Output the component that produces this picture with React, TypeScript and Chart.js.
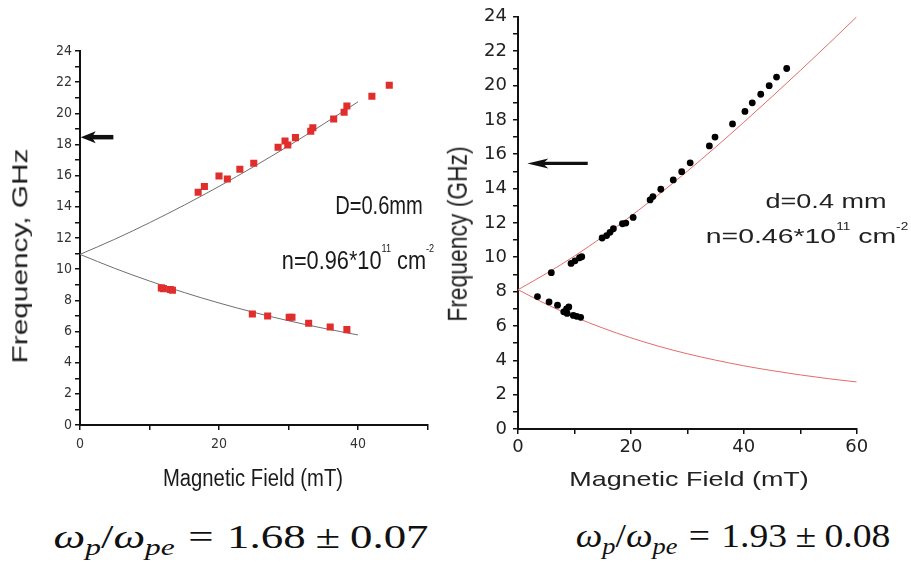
import React, { useEffect, useLayoutEffect, useRef, useState } from "react";
import { Chart, registerables } from "chart.js";
Chart.register(...registerables);

// ---------- Left panel (D = 0.6 mm) ----------
const leftUpperB = [17.0, 17.9, 20.0, 21.2, 23.0, 25.0, 28.5, 29.5, 29.9, 31.0, 33.2, 33.5, 36.5, 38.0, 38.4, 42.0, 44.5];
const leftUpperF = [14.94, 15.3, 15.98, 15.79, 16.41, 16.8, 17.82, 18.23, 17.97, 18.44, 18.85, 19.08, 19.64, 20.07, 20.47, 21.1, 21.8];
const leftLowerB = [11.7, 12.0, 13.0, 13.3, 24.8, 27.0, 30.1, 30.5, 32.9, 36.0, 38.4];
const leftLowerF = [8.8, 8.75, 8.7, 8.65, 7.12, 7.0, 6.91, 6.91, 6.53, 6.29, 6.12];
const leftFitB = [0, 5, 10, 15, 20, 25, 30, 35, 40];
const leftFitUpper = [10.95, 11.92, 12.98, 14.11, 15.31, 16.58, 17.91, 19.3, 20.74];
const leftFitLower = [10.95, 10.05, 9.24, 8.5, 7.83, 7.23, 6.69, 6.21, 5.78];
const leftXLabels = [0, 20, 40];
const leftYLabels = [0, 2, 4, 6, 8, 10, 12, 14, 16, 18, 20, 22, 24];
const leftArrow = { y: 18.47, tip: 0.1, tail: 4.8 };

// ---------- Right panel (d = 0.4 mm) ----------
const rightUpperB = [5.9, 9.4, 10.1, 10.9, 11.3, 14.9, 15.7, 16.3, 16.9, 18.5, 19.1, 20.4, 23.4, 23.9, 25.3, 27.5, 29.0, 30.5, 33.9, 34.9, 38.0, 40.2, 41.5, 43.0, 44.5, 45.8, 47.6];
const rightUpperF = [9.1, 9.64, 9.79, 9.97, 10.03, 11.12, 11.26, 11.45, 11.66, 11.95, 11.99, 12.32, 13.34, 13.53, 13.96, 14.5, 14.98, 15.5, 16.48, 17.0, 17.76, 18.49, 18.99, 19.49, 19.99, 20.49, 20.99];
const rightLowerB = [3.45, 5.5, 7.0, 8.1, 8.7, 8.6, 9.0, 9.8, 10.4, 11.1];
const rightLowerF = [7.71, 7.4, 7.21, 6.82, 6.73, 7.0, 7.11, 6.61, 6.56, 6.5];
const rightFitB = [0, 5, 10, 15, 20, 25, 30, 35, 40, 45, 50, 55, 60];
const rightFitUpper = [8.11, 9.05, 10.07, 11.19, 12.4, 13.67, 15.01, 16.41, 17.86, 19.35, 20.87, 22.42, 24.0];
const rightFitLower = [8.11, 7.27, 6.53, 5.88, 5.31, 4.81, 4.38, 4.01, 3.68, 3.4, 3.15, 2.93, 2.74];
const rightXLabels = [0, 20, 40, 60];
const rightYLabels = [0, 2, 4, 6, 8, 10, 12, 14, 16, 18, 20, 22, 24];
const rightArrow = { y: 15.46, tip: 1.65, tail: 12.35 };

const SANS = "'Liberation Sans', Arial, sans-serif";
const NARROW = "'Liberation Sans Narrow', 'DejaVu Sans Condensed', 'Liberation Sans', sans-serif";
const DEJAVU = "'DejaVu Sans', 'Liberation Sans', sans-serif";
const SERIF = "'Liberation Serif', 'Times New Roman', serif";
const RED = "rgb(224,46,44)";

const zip = (xs: number[], ys: number[]) => xs.map((x, i) => ({ x, y: ys[i] }));

const arrowPlugin = {
  id: "arrowMark",
  afterDatasetsDraw(chart: any, _args: any, opts: any) {
    if (!opts || opts.y == null) return;
    const xs = chart.scales.x;
    const ys = chart.scales.y;
    const ctx = chart.ctx;
    const py = ys.getPixelForValue(opts.y);
    const tip = xs.getPixelForValue(opts.tip);
    const tail = xs.getPixelForValue(opts.tail);
    const L = opts.headLen;
    const H = opts.headHalf;
    ctx.save();
    ctx.fillStyle = "#111";
    ctx.strokeStyle = "#111";
    ctx.lineWidth = opts.width;
    ctx.beginPath();
    ctx.moveTo(tail, py);
    ctx.lineTo(tip + L * 0.6, py);
    ctx.stroke();
    ctx.beginPath();
    ctx.moveTo(tip, py);
    ctx.lineTo(tip + L, py - H);
    ctx.lineTo(tip + L * 0.75, py);
    ctx.lineTo(tip + L, py + H);
    ctx.closePath();
    ctx.fill();
    ctx.restore();
  },
};

function axisCfg(o: any) {
  return {
    type: "linear",
    min: o.min,
    max: o.max,
    afterFit: (s: any) => {
      if (o.width != null) s.width = o.width;
      if (o.height != null) s.height = o.height;
    },
    ticks: {
      stepSize: o.step,
      autoSkip: false,
      maxRotation: 0,
      padding: o.pad,
      font: { family: o.family, size: o.size },
      color: o.color,
      callback: (v: any) => {
        const r = Math.round(Number(v));
        return o.labels.includes(r) ? String(r) : "";
      },
    },
    grid: { drawOnChartArea: false, drawTicks: true, tickLength: 5, color: "#111", lineWidth: 1.5 },
    border: { display: true, color: "#111", width: 2 },
  };
}

const leftConfig: any = {
  type: "scatter",
  data: {
    datasets: [
      { data: zip(leftUpperB, leftUpperF), pointStyle: "rect", pointRadius: 5, backgroundColor: RED, borderColor: RED, borderWidth: 0 },
      { data: zip(leftLowerB, leftLowerF), pointStyle: "rect", pointRadius: 5, backgroundColor: RED, borderColor: RED, borderWidth: 0 },
      { data: zip(leftFitB, leftFitUpper), showLine: true, pointRadius: 0, borderColor: "#6f6f6f", borderWidth: 1, cubicInterpolationMode: "monotone" },
      { data: zip(leftFitB, leftFitLower), showLine: true, pointRadius: 0, borderColor: "#6f6f6f", borderWidth: 1, cubicInterpolationMode: "monotone" },
    ],
  },
  options: {
    animation: false,
    responsive: false,
    events: [],
    layout: { padding: { left: 0, right: 12.5, top: 51, bottom: 0 } },
    plugins: {
      legend: { display: false },
      tooltip: { enabled: false },
      arrowMark: { ...leftArrow, width: 4.5, headLen: 15, headHalf: 6 },
    },
    scales: {
      x: axisCfg({ min: 0, max: 50, step: 10, height: 75, pad: 6, family: NARROW, size: 14, color: "#333", labels: leftXLabels }),
      y: axisCfg({ min: 0, max: 24, step: 1, width: 80, pad: 3, family: NARROW, size: 14, color: "#333", labels: leftYLabels }),
    },
  },
  plugins: [arrowPlugin],
};

const rightConfig: any = {
  type: "scatter",
  data: {
    datasets: [
      { data: zip(rightUpperB, rightUpperF), pointStyle: "circle", pointRadius: 3.4, backgroundColor: "#000", borderColor: "#000", borderWidth: 0 },
      { data: zip(rightLowerB, rightLowerF), pointStyle: "circle", pointRadius: 3.4, backgroundColor: "#000", borderColor: "#000", borderWidth: 0 },
      { data: zip(rightFitB, rightFitUpper), showLine: true, pointRadius: 0, borderColor: "#e46b6b", borderWidth: 1, cubicInterpolationMode: "monotone" },
      { data: zip(rightFitB, rightFitLower), showLine: true, pointRadius: 0, borderColor: "#e46b6b", borderWidth: 1, cubicInterpolationMode: "monotone" },
    ],
  },
  options: {
    animation: false,
    responsive: false,
    events: [],
    layout: { padding: { left: 0, right: 54.3, top: 14, bottom: 0 } },
    plugins: {
      legend: { display: false },
      tooltip: { enabled: false },
      arrowMark: { ...rightArrow, width: 3.3, headLen: 21, headHalf: 5 },
    },
    scales: {
      x: axisCfg({ min: 0, max: 60, step: 10, height: 71, pad: 2.5, family: DEJAVU, size: 18, color: "#222", labels: rightXLabels }),
      y: axisCfg({ min: 0, max: 24, step: 1, width: 78, pad: 6, family: DEJAVU, size: 18, color: "#222", labels: rightYLabels }),
    },
  },
  plugins: [arrowPlugin],
};

function ChartCanvas({ left, top, width, height, config }: any) {
  const ref = useRef<HTMLCanvasElement>(null);
  useEffect(() => {
    const chart = new Chart(ref.current as HTMLCanvasElement, config);
    return () => chart.destroy();
  }, [config]);
  return (
    <canvas
      ref={ref}
      width={width}
      height={height}
      style={{ position: "absolute", left, top, width, height }}
    />
  );
}

function Label({ x, y, w, size, family, rot = 0, sy = 1, color = "#1a1a1a", children }: any) {
  const ref = useRef<HTMLSpanElement>(null);
  const [sx, setSx] = useState(1);
  useLayoutEffect(() => {
    if (ref.current) {
      const nw = ref.current.offsetWidth;
      if (nw > 0) setSx(w / nw);
    }
  }, [w]);
  return (
    <span
      ref={ref}
      style={{
        position: "absolute",
        left: x,
        top: y,
        fontSize: size,
        fontFamily: family,
        lineHeight: 1,
        whiteSpace: "nowrap",
        color,
        transform: `translate(-50%, -50%) rotate(${rot}deg) scale(${sx}, ${sy})`,
      }}
    >
      {children}
    </span>
  );
}

const sup = (size: number, top: number) => ({ fontSize: `${size}em`, position: "relative" as const, top: `${top}em`, lineHeight: 1 });
const sub = { fontSize: "0.7em", position: "relative" as const, top: "0.32em", lineHeight: 1, fontStyle: "italic" };

function Formula({ value, err }: { value: string; err: string }) {
  return (
    <>
      <i>ω</i>
      <span style={sub}>p</span>
      <span>/</span>
      <i>ω</i>
      <span style={sub}>pe</span>
      <span style={{ margin: "0 0.3em" }}>=</span>
      <span>{value}</span>
      <span style={{ margin: "0 0.22em" }}>±</span>
      <span>{err}</span>
    </>
  );
}

export default function App() {
  return (
    <div style={{ position: "fixed", left: 0, top: 0, width: 911, height: 562, background: "#fff", overflow: "hidden" }}>
      <ChartCanvas left={0} top={0} width={440} height={500} config={leftConfig} />
      <ChartCanvas left={440} top={0} width={471} height={500} config={rightConfig} />

      {/* left panel texts */}
      <Label x={20} y={255.5} w={215} size={29} family={SANS} rot={-90} sy={0.77}>Frequency, GHz</Label>
      <Label x={253} y={478.5} w={180} size={23.3} family={SANS}>Magnetic Field (mT)</Label>
      <Label x={379} y={206} w={88} size={25.6} family={SANS}>D=0.6mm</Label>
      <Label x={357.5} y={261} w={152} size={25.6} family={SANS}>
        n=0.96*10<span style={sup(0.42, -1.55)}>11</span> cm<span style={sup(0.42, -1.55)}>-2</span>
      </Label>

      {/* right panel texts */}
      <Label x={458.3} y={234} w={175} size={23} family={SANS} rot={-90} sy={1.2} color="#222">Frequency (GHz)</Label>
      <Label x={689} y={477.5} w={240} size={21} family={SANS} color="#222">Magnetic Field (mT)</Label>
      <Label x={825.5} y={199.7} w={121} size={21} family={SANS} color="#222">d=0.4 mm</Label>
      <Label x={806.5} y={235} w={203} size={21} family={SANS} color="#222">
        n=0.46*10<span style={sup(0.48, -1.25)}>11</span> cm<span style={sup(0.48, -1.25)}>-2</span>
      </Label>

      {/* formulas */}
      <Label x={240.5} y={536.5} w={375} size={34} family={SERIF} color="#111">
        <Formula value="1.68" err="0.07" />
      </Label>
      <Label x={732.5} y={536} w={315} size={33} family={SERIF} color="#111">
        <Formula value="1.93" err="0.08" />
      </Label>
    </div>
  );
}
